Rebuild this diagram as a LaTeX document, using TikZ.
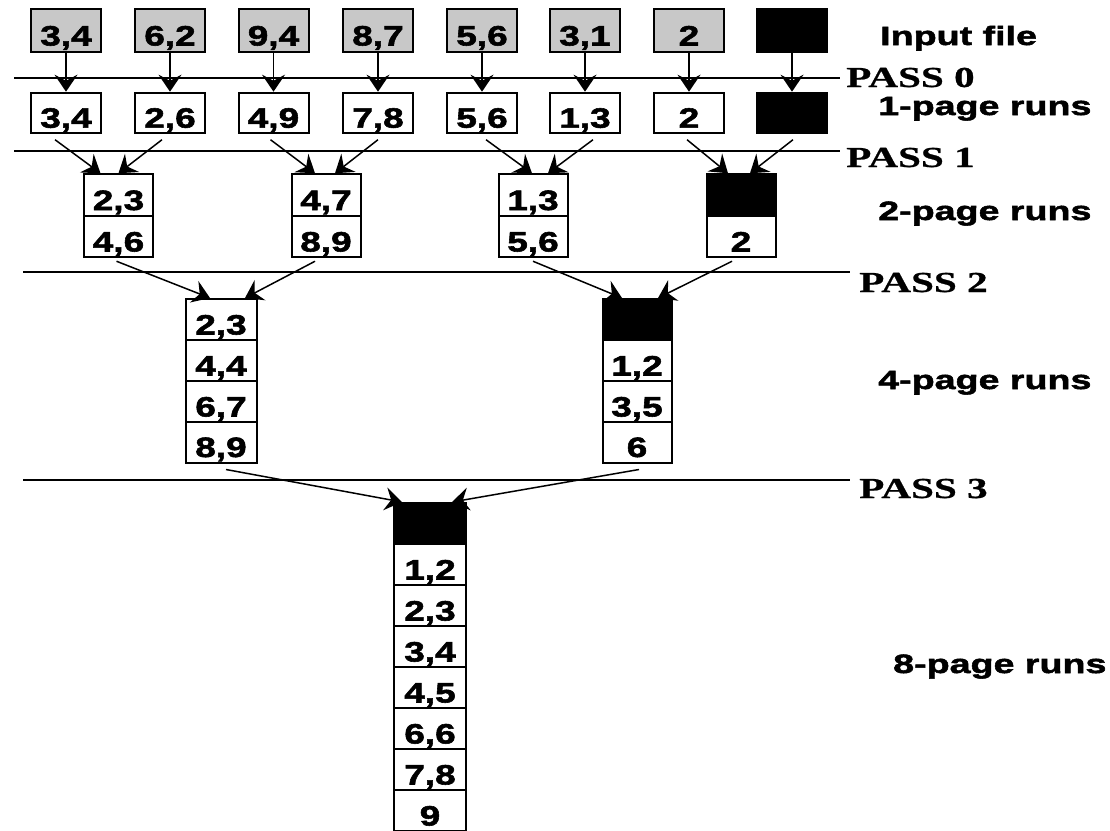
\documentclass[tikz,border=0pt]{standalone}
\usepackage{fontspec}
\usetikzlibrary{arrows.meta,calc}
% wide bold faces used throughout
\newfontfamily\runfont[FakeStretch=1.42,FakeBold=2]{Liberation Sans Bold}
\newfontfamily\cellfont[FakeStretch=1.32,FakeBold=2]{Liberation Sans Bold}
\newfontfamily\passfont[FakeStretch=1.42,FakeBold=0.8]{Liberation Serif Bold}
\definecolor{pagegray}{RGB}{200,200,200}

\begin{document}
\begin{tikzpicture}[x=1pt,y=-1pt,
  pg/.style={draw, line width=2pt, inner sep=0pt, minimum width=70pt, minimum height=41pt,
    font=\cellfont\fontsize{28}{30}\selectfont, text height=30pt, text depth=0pt},
  inpg/.style={pg, fill=pagegray, minimum height=43pt},
  onepg/.style={pg, minimum height=40pt},
  blk/.style={fill=black},
  rule/.style={line width=1.6pt},
  arr/.style={line width=1.5pt, -{Stealth[length=17pt,width=23pt,inset=6pt]}},
  lab/.style={anchor=base west, inner sep=0pt, font=\runfont\fontsize{26.5}{30}\selectfont},
  passlab/.style={anchor=base west, inner sep=0pt, font=\passfont\fontsize{29}{32}\selectfont},
]
\useasboundingbox (0,0) rectangle (1110,830);

% pass separators
\draw[rule] (14,78) -- (840,78);
\draw[rule] (14,151) -- (840,151);
\draw[rule] (23,272) -- (850,272);
\draw[rule] (23,480) -- (850,480);

% input file pages
\node[inpg] (i1) at (66,30.5) {3,4};
\node[inpg] (i2) at (170,30.5) {6,2};
\node[inpg] (i3) at (273.5,30.5) {9,4};
\node[inpg] (i4) at (378,30.5) {8,7};
\node[inpg] (i5) at (482,30.5) {5,6};
\node[inpg] (i6) at (585,30.5) {3,1};
\node[inpg] (i7) at (689,30.5) {2};
\node[inpg,blk] (i8) at (792,30.5) {};

% 1-page runs
\node[onepg] (r1) at (66,112.7) {3,4};
\node[onepg] (r2) at (170,112.7) {2,6};
\node[onepg] (r3) at (273.5,112.7) {4,9};
\node[onepg] (r4) at (378,112.7) {7,8};
\node[onepg] (r5) at (482,112.7) {5,6};
\node[onepg] (r6) at (585,112.7) {1,3};
\node[onepg] (r7) at (689,112.7) {2};
\node[onepg,blk] (r8) at (792,112.7) {};

\foreach \k in {1,...,8}{\draw[arr] (i\k) -- (r\k);}

% 2-page runs
\begin{scope}[every node/.style={pg, minimum width=69pt, minimum height=41.5pt}]
\node (a1t) at (118.5,195) {2,3};
\node (a1b) at (118.5,236.5) {4,6};
\node (a2t) at (326,195) {4,7};
\node (a2b) at (326,236.5) {8,9};
\node (a3t) at (533,195) {1,3};
\node (a3b) at (533,236.5) {5,6};
\node[blk] (a4t) at (741,195) {};
\node (a4b) at (741,236.5) {2};
\end{scope}

\draw[arr] ($(r1.south)+(-11,6)$) -- ($(a1t.north)+(-18,0)$);
\draw[arr] ($(r2.south)+(-8,6)$) -- ($(a1t.north)+(0,0)$);
\draw[arr] ($(r3.south)+(-3,6)$) -- ($(a2t.north)+(-11,0)$);
\draw[arr] ($(r4.south)+(0,6)$) -- ($(a2t.north)+(9,0)$);
\draw[arr] ($(r5.south)+(4,6)$) -- ($(a3t.north)+(-1,0)$);
\draw[arr] ($(r6.south)+(8,6)$) -- ($(a3t.north)+(15,0)$);
\draw[arr] ($(r7.south)+(-2,6)$) -- ($(a4t.north)+(-13,0)$);
\draw[arr] ($(r8.south)+(1,6)$) -- ($(a4t.north)+(9,0)$);

% 4-page runs
\begin{scope}[every node/.style={pg, minimum width=71pt, minimum height=41pt}]
\node (b1a) at (221,319.5) {2,3};
\node (b1b) at (221,360.5) {4,4};
\node (b1c) at (221,401.5) {6,7};
\node (b1d) at (221,442) {8,9};
\end{scope}
\begin{scope}[every node/.style={pg, minimum width=69pt, minimum height=41pt}]
\node[blk] (b2a) at (637,319.5) {};
\node (b2b) at (637,360.5) {1,2};
\node (b2c) at (637,401.5) {3,5};
\node (b2d) at (637,442) {6};
\end{scope}

\draw[arr] ($(a1b.south)+(-2,3)$) -- ($(b1a.north)+(-11,0)$);
\draw[arr] ($(a2b.south)+(-11,3)$) -- ($(b1a.north)+(24,0)$);
\draw[arr] ($(a3b.south)+(0,3)$) -- ($(b2a.north)+(-15,0)$);
\draw[arr] ($(a4b.south)+(-9,3)$) -- ($(b2a.north)+(21,0)$);

% 8-page run
\begin{scope}[every node/.style={pg, minimum width=72pt, minimum height=41pt}]
\node[blk] (f1) at (430,523.5) {};
\node (f2) at (430,564.5) {1,2};
\node (f3) at (430,605.5) {2,3};
\node (f4) at (430,646.5) {3,4};
\node (f5) at (430,687.5) {4,5};
\node (f6) at (430,728.5) {6,6};
\node (f7) at (430,769.5) {7,8};
\node (f8) at (430,810.5) {9};
\end{scope}

\draw[arr] ($(b1d.south)+(5,6)$) -- ($(f1.north)+(-28,0)$);
\draw[arr] ($(b2d.south)+(2,6)$) -- ($(f1.north)+(22,0)$);

% row labels
\node[lab] (lin) at (880,45) {Input file};
\node[lab] (l1) at (878,115) {1-page runs};
\node[lab] (l2) at (878,220) {2-page runs};
\node[lab] (l4) at (878,389) {4-page runs};
\node[lab] (l8) at (893,673) {8-page runs};

\node[passlab] (p0) at (846,87) {PASS 0};
\node[passlab] (p1) at (846,167) {PASS 1};
\node[passlab] (p2) at (859,292) {PASS 2};
\node[passlab] (p3) at (859,498) {PASS 3};
\end{tikzpicture}
\end{document}
